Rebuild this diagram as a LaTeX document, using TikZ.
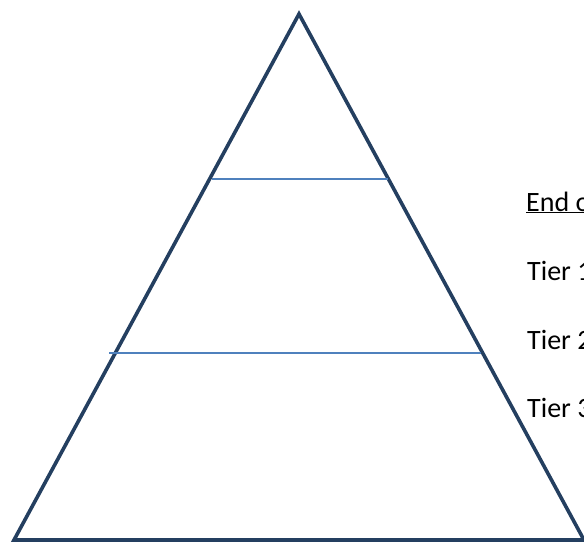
\documentclass[tikz,border=0pt]{standalone}
\usepackage{fontspec}
\setmainfont{Carlito}
\usepackage{xcolor}
\definecolor{pyrline}{HTML}{243F60}
\definecolor{pyrtier}{HTML}{4F81BD}
\usepackage{tikz}
\usetikzlibrary{positioning}
\tikzset{
  pyredge/.style={draw=pyrline,line width=3.6pt,line join=miter},
  pyrcut/.style={draw=pyrtier,line width=1.6pt},
  pyrlabel/.style={anchor=base west,inner sep=0pt,font=\fontsize{28}{32}\selectfont},
}
\begin{document}
\begin{tikzpicture}[x=1pt,y=-1pt]
 % pyramid with tiers
\useasboundingbox (0,0) rectangle (584,544);
\clip (0,0) rectangle (584,544);
\coordinate (top) at (299,14);
\coordinate (bl) at (14,540);
\coordinate (br) at (584,540);
\coordinate (c1l) at (212,179);\coordinate (c1r) at (388,179);
\coordinate (c2l) at (109,353);\coordinate (c2r) at (481,353);
\draw[pyredge] (top)--(br)--(bl)--cycle;
\draw[pyrcut] (c1l)--(c1r);
\draw[pyrcut] (c2l)--(c2r);
\node[pyrlabel] (h) at (526,211) {\underline{End of}};
\node[pyrlabel] (t1) at (527,280) {Tier 1};
\node[pyrlabel] (t2) at (527,349) {Tier 2};
\node[pyrlabel] (t3) at (527,417) {Tier 3};
\end{tikzpicture}
\end{document}
